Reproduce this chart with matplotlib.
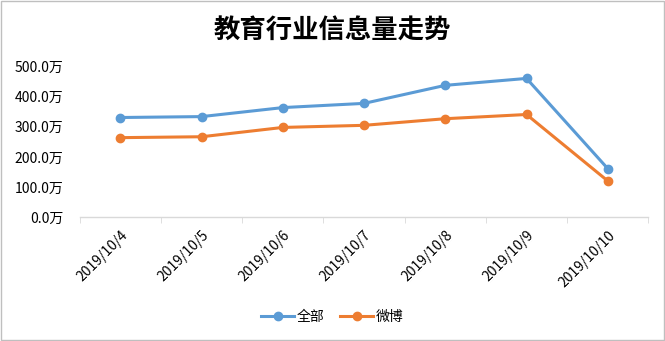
import numpy as np
import matplotlib.pyplot as plt
from matplotlib.patches import Rectangle

plt.rcParams['font.family'] = ['Noto Sans CJK SC', 'DejaVu Sans']

# data (万)
dates = ["2019/10/4", "2019/10/5", "2019/10/6", "2019/10/7",
         "2019/10/8", "2019/10/9", "2019/10/10"]
all_values = [331, 334, 364, 378, 438, 461, 161]
weibo_values = [264, 267, 298, 305, 327, 341, 120]
series_names = ["全部", "微博"]

blue = "#5B9BD5"
orange = "#ED7D31"

fig = plt.figure(figsize=(6.65, 3.41), dpi=100)
ax = fig.add_axes([0.120, 0.3636, 0.855, 0.4408])

x = np.arange(len(dates))
ax.plot(x, all_values, color=blue, lw=2.2, marker="o", ms=6, label=series_names[0])
ax.plot(x, weibo_values, color=orange, lw=2.2, marker="o", ms=6, label=series_names[1])

ax.set_xlim(-0.5, len(dates) - 0.5)
ax.set_ylim(0, 500)
ax.set_yticks(np.arange(0, 501, 100))
ax.set_yticklabels([f"{v:.1f}万" for v in range(0, 501, 100)], fontsize=10)
ax.set_xticks(x)
ax.set_xticklabels(dates, fontsize=10, rotation=45, ha="right", rotation_mode="anchor")
ax.set_xticks(np.arange(-0.5, len(dates)), minor=True)
ax.tick_params(axis="x", which="major", length=0, pad=8)
ax.tick_params(axis="x", which="minor", length=4, color="#D9D9D9")
ax.tick_params(axis="y", length=0, pad=12)

for s in ["top", "right", "left"]:
    ax.spines[s].set_visible(False)
ax.spines["bottom"].set_color("#D9D9D9")
ax.spines["bottom"].set_linewidth(1)

fig.text(0.5, 0.91, "教育行业信息量走势", ha="center", va="center",
         fontsize=19, fontweight="bold")

fig.legend(loc="center", bbox_to_anchor=(0.5, 0.07), ncol=2, frameon=False,
           fontsize=10, handlelength=2.4, columnspacing=1.1, handletextpad=0.2)

fig.patches.append(Rectangle((0.001, 0.002), 0.997, 0.995, transform=fig.transFigure,
                             fill=False, edgecolor="#BFBFBF", lw=1))

fig.savefig("out.png", dpi=100)
